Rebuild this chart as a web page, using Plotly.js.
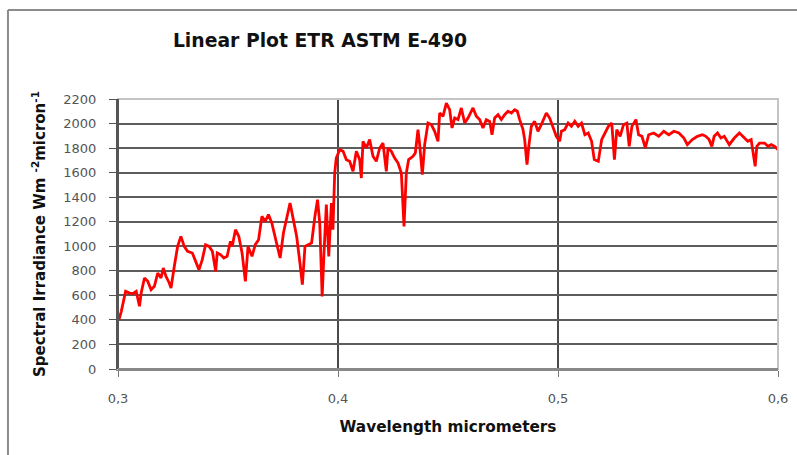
<!DOCTYPE html>
<html>
<head>
<meta charset="utf-8">
<script src="https://cdn.plot.ly/plotly-3.0.1.min.js"></script>
<style>html,body{margin:0;padding:0;background:#fff;}#chart{width:797px;height:455px;}</style>
</head>
<body>
<div id="chart"></div>
<script>
// Wavelength (micrometers)
const wavelength = [
0.30045,0.3015,0.30346,0.30526,0.30677,0.30827,0.30977,0.31053,0.31203,0.31353,
0.31504,0.31654,0.31805,0.31955,0.3206,0.3218,0.3233,0.3241,0.3256,0.3271,
0.3286,0.3301,0.3316,0.3338,0.3353,0.3368,0.3383,0.3398,0.3414,0.3429,
0.3444,0.3451,0.3466,0.3481,0.3496,0.3511,0.3519,0.3534,0.3549,0.3564,
0.3579,0.3591,0.3609,0.3624,0.3639,0.3654,0.3669,0.3684,0.3699,0.3714,
0.3737,0.3752,0.3767,0.3782,0.3797,0.3812,0.3827,0.3838,0.3850,0.3865,
0.3880,0.3895,0.3907,0.3917,0.3928,0.3937,0.3947,0.3958,0.3970,0.3977,
0.3985,0.3992,0.4008,0.4023,0.40379,0.4053,0.40682,0.40833,0.40985,0.41061,
0.41136,0.41288,0.41439,0.41591,0.41742,0.41894,0.42045,0.42197,0.42273,0.42424,
0.42576,0.42727,0.42879,0.43,0.43106,0.43212,0.43409,0.43515,0.43636,0.43712,
0.43833,0.43939,0.44091,0.44242,0.44394,0.44545,0.44621,0.44773,0.44924,0.45076,
0.45182,0.45303,0.45455,0.45606,0.45758,0.45909,0.46136,0.46288,0.46439,0.46591,
0.46742,0.46894,0.47,0.47121,0.47273,0.47424,0.47576,0.47727,0.47879,0.4803,
0.48152,0.48258,0.48409,0.48485,0.48591,0.48682,0.48788,0.48939,0.49091,0.49242,
0.4947,0.49621,0.49773,0.49924,0.50076,0.50153,0.50305,0.50458,0.50611,0.50763,
0.50916,0.51069,0.51221,0.51374,0.51527,0.51649,0.51832,0.51985,0.52137,0.5229,
0.52443,0.52565,0.52672,0.52824,0.52977,0.5313,0.53237,0.53359,0.53542,0.53664,
0.53817,0.53969,0.54122,0.54351,0.5458,0.54809,0.55038,0.55267,0.55496,0.55725,
0.55878,0.56107,0.56336,0.56565,0.56718,0.5687,0.56992,0.57099,0.57252,0.57405,
0.57557,0.57786,0.58015,0.58244,0.58397,0.58626,0.58779,0.58885,0.58962,0.59038,
0.5916,0.59389,0.59542,0.59695,0.59847,0.6
];
// Spectral irradiance (W m^-2 micron^-1)
const irradiance = [
402,470,633,619,614,633,511,619,741,714,
646,674,782,741,823,755,701,660,837,999,
1081,999,959,945,877,809,891,1013,999,959,
796,945,932,904,918,1040,999,1135,1081,945,
714,999,918,1013,1054,1244,1203,1258,1190,1081,
904,1108,1244,1353,1217,1081,864,687,999,1013,
1027,1244,1380,1190,592,972,1339,918,1353,1135,
1597,1719,1787,1774,1706,1692,1611,1774,1706,1556,
1855,1801,1869,1733,1692,1801,1841,1611,1801,1774,
1719,1679,1597,1162,1597,1706,1733,1760,1950,1828,
1583,1828,2004,1991,1937,1855,2086,2059,2167,2113,
1964,2045,2032,2127,2004,2045,2127,2059,2032,1964,
2032,2018,1909,2045,2072,2032,2072,2100,2086,2113,
2100,2032,1950,1869,1665,1828,1977,2018,1937,1991,
2086,2045,1964,1896,1855,1937,1950,2004,1977,2018,
1977,2004,1909,1923,1855,1706,1692,1869,1923,1977,
2004,1706,1950,1896,1991,2004,1814,1977,2032,1909,
1896,1801,1909,1923,1896,1937,1909,1937,1923,1882,
1828,1869,1896,1909,1896,1869,1814,1896,1923,1882,
1896,1828,1882,1923,1896,1855,1869,1760,1651,1814,
1841,1841,1814,1828,1814,1787
];
const titleText = "Linear Plot ETR ASTM E-490";
const xTitle = "Wavelength micrometers";
const yTitle = "Spectral Irradiance Wm <sup>-2</sup>micron<sup>-1</sup>";
const xTicks = [0.3, 0.4, 0.5, 0.6];
const yTicks = [0,200,400,600,800,1000,1200,1400,1600,1800,2000,2200];

const trace = {
  x: wavelength, y: irradiance, type: 'scatter', mode: 'lines',
  line: {color: '#ff0000', width: 2.8}, hoverinfo: 'x+y'
};

const layout = {
  width: 797, height: 455,
  margin: {l: 118, r: 19, t: 99, b: 86, pad: 0},
  paper_bgcolor: '#ffffff', plot_bgcolor: '#ffffff',
  separators: ',.',
  showlegend: false,
  font: {family: 'DejaVu Sans, Arial, sans-serif', color: '#222'},
  title: {
    text: titleText, xref: 'container', yref: 'container',
    x: 0.4015, xanchor: 'center', y: 0.912, yanchor: 'middle',
    font: {family: 'DejaVu Sans, Arial, sans-serif', size: 18.8, color: '#111', weight: 'bold'}
  },
  xaxis: {
    range: [0.3, 0.6], tickvals: xTicks, tickformat: '.1f',
    showgrid: true, gridcolor: '#4a4a4a', gridwidth: 2,
    showline: true, linecolor: '#888', linewidth: 2,
    ticks: 'outside', ticklen: 6, tickcolor: '#777', tickwidth: 1,
    zeroline: false,
    tickfont: {family: 'DejaVu Sans, sans-serif', size: 13, color: '#555'},
    ticklabelstandoff: 10,
    title: {text: xTitle, standoff: 17,
      font: {family: 'DejaVu Sans, Arial, sans-serif', size: 15.3, color: '#111', weight: 'bold'}}
  },
  yaxis: {
    range: [0, 2200], tickvals: yTicks,
    showgrid: true, gridcolor: '#5c5c5c', gridwidth: 2,
    showline: true, linecolor: '#555', linewidth: 2,
    ticks: 'outside', ticklen: 7, tickcolor: '#555', tickwidth: 1,
    zeroline: false,
    tickfont: {family: 'DejaVu Sans, sans-serif', size: 13, color: '#555'},
    ticklabelstandoff: 10,
    title: {text: yTitle, standoff: 14,
      font: {family: 'DejaVu Sans, Arial, sans-serif', size: 15, color: '#111', weight: 'bold'}}
  },
  shapes: [
    {type: 'rect', xref: 'paper', yref: 'paper', x0: 0, x1: 1, y0: 0, y1: 1,
     line: {color: '#c4c4c4', width: 2}, layer: 'above'},
    {type: 'line', xref: 'paper', yref: 'paper', x0: 0, x1: 0, y0: 0, y1: 1,
     line: {color: '#555', width: 2}, layer: 'above'},
    {type: 'line', xref: 'paper', yref: 'paper', x0: 0, x1: 1, y0: 0, y1: 0,
     line: {color: '#888', width: 2}, layer: 'above'},
    {type: 'line', xref: 'paper', yref: 'paper', x0: -0.1667, x1: -0.1667, y0: -0.4, y1: 1.3296,
     line: {color: '#8c8c8c', width: 2}},
    {type: 'line', xref: 'paper', yref: 'paper', x0: -0.1667, x1: 1.1, y0: 1.3296, y1: 1.3296,
     line: {color: '#8c8c8c', width: 2}}
  ]
};

Plotly.newPlot('chart', [trace], layout, {staticPlot: true, displayModeBar: false});
</script>
</body>
</html>
